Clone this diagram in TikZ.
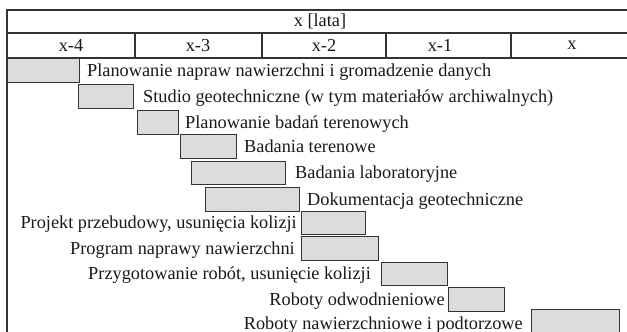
\documentclass[tikz,border=0pt]{standalone}
\usepackage{fontspec}
\setmainfont{Liberation Serif}
\definecolor{barfill}{HTML}{DCDCDC}
\definecolor{linec}{HTML}{333333}
\begin{document}
\begin{tikzpicture}[x=1pt,y=-1pt,
  bar/.style={draw=linec,fill=barfill,line width=1pt},
  frame/.style={draw=linec,line width=1.3pt},
  lab/.style={inner sep=0pt,font=\fontsize{18.3}{21}\selectfont,text=black!90}]
\useasboundingbox (0,0) rectangle (627,332);
\clip (0,0) rectangle (627,332);
% frame
\draw[frame] (7,345) -- (7,10) -- (640,10);
\draw[frame] (7,33) -- (640,33);
\draw[frame] (7,58) -- (640,58);
\foreach \xx in {135,262,386,511} \draw[frame] (\xx,33) -- (\xx,58);
\node[lab] (h) at (320,21.5) {x [lata]};
\node[lab] (c1) at (71,45.5) {x-4};
\node[lab] (c2) at (198,45.5) {x-3};
\node[lab] (c3) at (324,45.5) {x-2};
\node[lab] (c4) at (440,45.5) {x-1};
\node[lab] (c5) at (572,45.5) {x};
% bars
\draw[bar] (7,58) rectangle (79,82) coordinate (b1);
\draw[bar] (78,84) rectangle (133,108) coordinate (b2);
\draw[bar] (137,110) rectangle (178,134) coordinate (b3);
\draw[bar] (180,134) rectangle (236,158) coordinate (b4);
\draw[bar] (191,161) rectangle (285,184) coordinate (b5);
\draw[bar] (205,187) rectangle (299,211) coordinate (b6);
\draw[bar] (301,211) rectangle (365,234) coordinate (b7);
\draw[bar] (301,236) rectangle (378,260) coordinate (b8);
\draw[bar] (381,262) rectangle (447,285) coordinate (b9);
\draw[bar] (448,287) rectangle (504,311) coordinate (b10);
\draw[bar] (531,309) rectangle (619,345) coordinate (b11);
% labels
\node[lab,anchor=base west] (l1) at (87,76.5) {Planowanie napraw nawierzchni i gromadzenie danych};
\node[lab,anchor=base west] (l2) at (143,102.5) {Studio geotechniczne (w tym materiałów archiwalnych)};
\node[lab,anchor=base west] (l3) at (185,128) {Planowanie badań terenowych};
\node[lab,anchor=base west] (l4) at (244,152) {Badania terenowe};
\node[lab,anchor=base west] (l5) at (295,178.5) {Badania laboratoryjne};
\node[lab,anchor=base west] (l6) at (307,205) {Dokumentacja geotechniczne};
\node[lab,anchor=base east] (l7) at (297,228.5) {Projekt przebudowy, usunięcia kolizji};
\node[lab,anchor=base east] (l8) at (295,254) {Program naprawy nawierzchni};
\node[lab,anchor=base east] (l9) at (371,279.5) {Przygotowanie robót, usunięcie kolizji};
\node[lab,anchor=base east] (l10) at (445,305) {Roboty odwodnieniowe};
\node[lab,anchor=base east] (l11) at (523,329) {Roboty nawierzchniowe i podtorzowe};
\end{tikzpicture}
\end{document}
